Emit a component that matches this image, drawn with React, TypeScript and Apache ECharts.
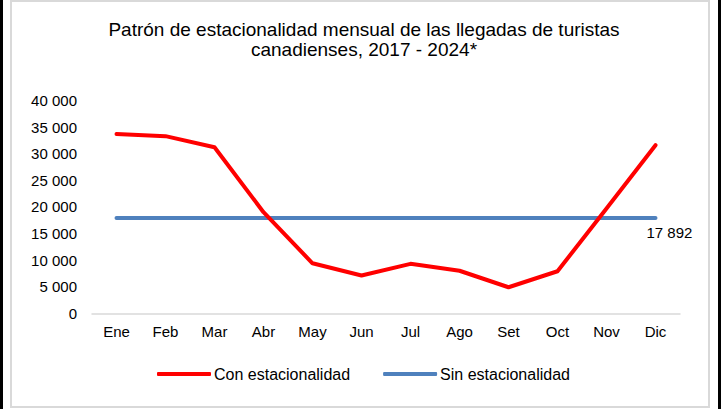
import React, { useEffect, useRef } from "react";
import * as echarts from "echarts";

const months = ["Ene", "Feb", "Mar", "Abr", "May", "Jun", "Jul", "Ago", "Set", "Oct", "Nov", "Dic"];
const conEstacionalidad = [33700, 33300, 31200, 19000, 9400, 7100, 9300, 8000, 4900, 7900, 19700, 31600];
const sinValue = 17892;
const sinEstacionalidad = months.map(() => sinValue);
const titleLines = ["Patrón de estacionalidad mensual de las llegadas de turistas", "canadienses, 2017 - 2024*"];
const seriesNames = ["Con estacionalidad", "Sin estacionalidad"];

const fmt = (v: number) => {
  const s = String(Math.round(v));
  return s.replace(/\B(?=(\d{3})+(?!\d))/g, " ");
};

export default function App() {
  const ref = useRef<HTMLDivElement>(null);
  useEffect(() => {
    if (!ref.current) return;
    const chart = echarts.init(ref.current, null, { renderer: "svg" });
    const font = "Arial, 'Liberation Sans', sans-serif";
    chart.setOption({
      animation: false,
      backgroundColor: "#ffffff",
      textStyle: { fontFamily: font },
      title: {
        text: titleLines.join("\n"),
        left: "center",
        top: 14,
        textStyle: { fontFamily: font, fontSize: 19, fontWeight: "normal", color: "#000", lineHeight: 20.5 },
      },
      graphic: [
        { type: "rect", shape: { x: 11, y: 1, width: 698, height: 406 }, style: { fill: "none", stroke: "#d9d9d9", lineWidth: 2 }, z: 100 },
        { type: "rect", shape: { x: 0, y: 0, width: 3, height: 409 }, style: { fill: "#000" }, z: 100 },
        { type: "rect", shape: { x: 718, y: 0, width: 3, height: 409 }, style: { fill: "#000" }, z: 100 },
      ],
      legend: {
        left: 157,
        top: 366,
        padding: 0,
        icon: "roundRect",
        itemWidth: 54,
        itemHeight: 4,
        itemGap: 33,
        textStyle: { fontFamily: font, fontSize: 16, color: "#000", padding: [0, 0, 0, -2] },
        data: seriesNames,
      },
      grid: { left: 92, right: 48, top: 100.5, bottom: 95.7, containLabel: false },
      xAxis: {
        type: "category",
        data: months,
        boundaryGap: true,
        axisLine: { show: true, lineStyle: { color: "#d9d9d9", width: 1.5 } },
        axisTick: { show: false },
        axisLabel: { fontFamily: font, fontSize: 15, color: "#000", margin: 11 },
        splitLine: { show: false },
      },
      yAxis: {
        type: "value",
        min: 0,
        max: 40000,
        interval: 5000,
        axisLine: { show: false },
        axisTick: { show: false },
        splitLine: { show: false },
        axisLabel: { fontFamily: font, fontSize: 15, color: "#000", margin: 15, formatter: (v: number) => fmt(v) },
      },
      series: [
        {
          name: seriesNames[0],
          type: "line",
          data: conEstacionalidad,
          symbol: "none",
          lineStyle: { color: "#ff0000", width: 4, cap: "round", join: "round" },
          itemStyle: { color: "#ff0000" },
          z: 2,
        },
        {
          name: seriesNames[1],
          type: "line",
          data: sinEstacionalidad,
          symbol: "none",
          lineStyle: { color: "#4f81bd", width: 4, cap: "round" },
          itemStyle: { color: "#4f81bd" },
          endLabel: {
            show: true,
            formatter: () => fmt(sinValue),
            fontFamily: font,
            fontSize: 15,
            color: "#000",
            offset: [-17, 14],
          },
          z: 1,
        },
      ],
    });
    return () => chart.dispose();
  }, []);
  return (
    <div
      ref={ref}
      style={{ position: "fixed", left: 0, top: 0, width: 728, height: 409, background: "#fff" }}
    />
  );
}
